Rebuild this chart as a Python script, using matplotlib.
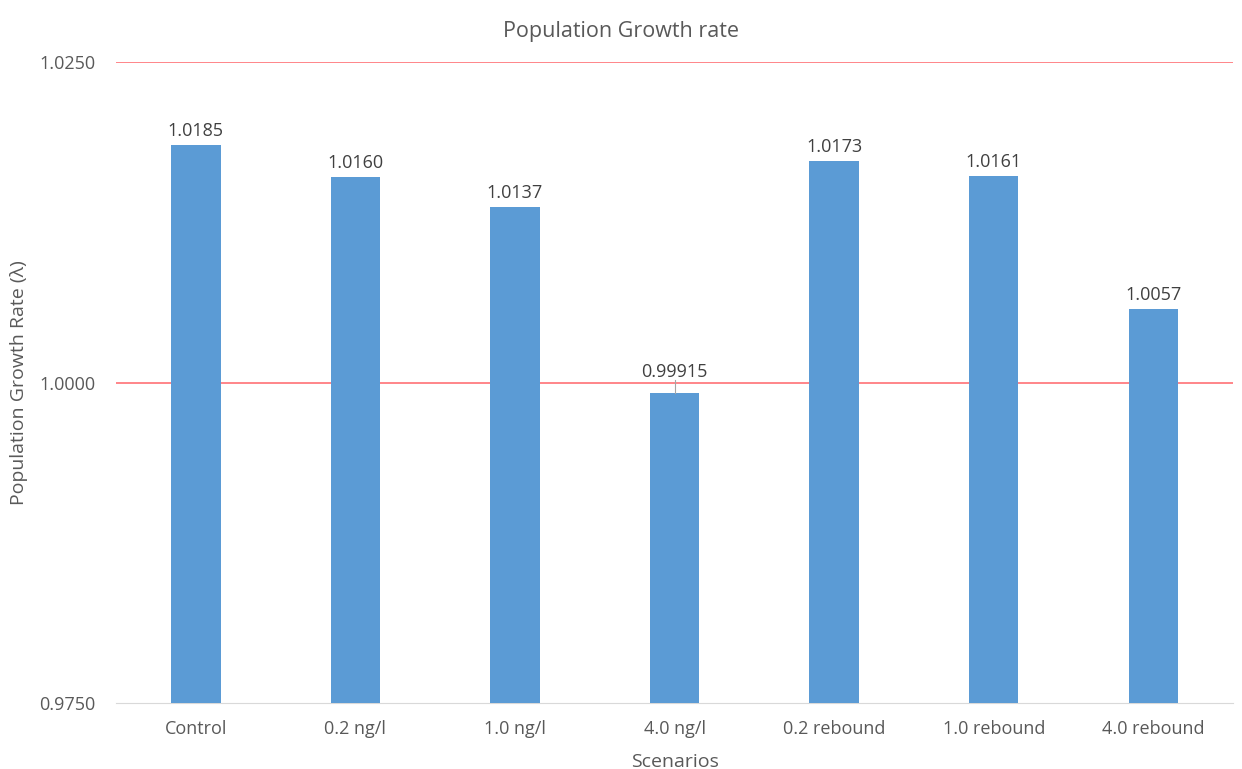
import matplotlib.pyplot as plt
import numpy as np

scenarios = ["Control", "0.2 ng/l", "1.0 ng/l", "4.0 ng/l",
             "0.2 rebound", "1.0 rebound", "4.0 rebound"]
growth_rate = [1.0185, 1.0160, 1.0137, 0.99915, 1.0173, 1.0161, 1.0057]
bar_labels = ["1.0185", "1.0160", "1.0137", "0.99915", "1.0173", "1.0161", "1.0057"]
y_ticks = [0.975, 1.000, 1.025]

plt.rcParams["font.family"] = ["Open Sans", "DejaVu Sans"]
text_color = "#595959"

fig = plt.figure(figsize=(12.42, 7.69), dpi=100)
ax = fig.add_axes([0.0934, 0.0858, 0.8994, 0.8336])

x = np.arange(len(scenarios))
bottom = y_ticks[0]
heights = [v - bottom for v in growth_rate]
ax.bar(x, heights, bottom=bottom, width=0.31, color="#5B9BD5", zorder=3)

for xi, v, lab in zip(x, growth_rate, bar_labels):
    if v < 1.0:
        # small leader line for the label that sits above the gridline
        ax.plot([xi, xi], [v, 1.0002], color="#A6A6A6", lw=0.8, zorder=4)
        ax.text(xi, 1.0001, lab, ha="center", va="bottom", fontsize=13,
                color="#404040", zorder=5)
    else:
        ax.text(xi, v + 0.0004, lab, ha="center", va="bottom", fontsize=13,
                color="#404040", zorder=5)

ax.set_xlim(-0.5, len(scenarios) - 0.5)
ax.set_ylim(0.975, 1.025)
ax.set_yticks(y_ticks)
ax.set_yticklabels([f"{t:.4f}" for t in y_ticks])
ax.set_xticks(x)
ax.set_xticklabels(scenarios)

for t in y_ticks[1:]:
    ax.axhline(t, color="#FF7C80", lw=1.3, zorder=2)

for s in ["top", "right", "left"]:
    ax.spines[s].set_visible(False)
ax.spines["bottom"].set_color("#D9D9D9")
ax.tick_params(axis="both", length=0, labelsize=13, labelcolor=text_color)
ax.tick_params(axis="y", pad=15)
ax.tick_params(axis="x", pad=12)

fig.suptitle("Population Growth rate", fontsize=15.5, color=text_color,
             x=0.5, y=0.973, va="top")
ax.set_xlabel("Scenarios", fontsize=14, color=text_color, labelpad=11)
ax.set_ylabel("Population Growth Rate (λ)", fontsize=14, color=text_color, labelpad=8)

fig.savefig("out.png", dpi=100)
